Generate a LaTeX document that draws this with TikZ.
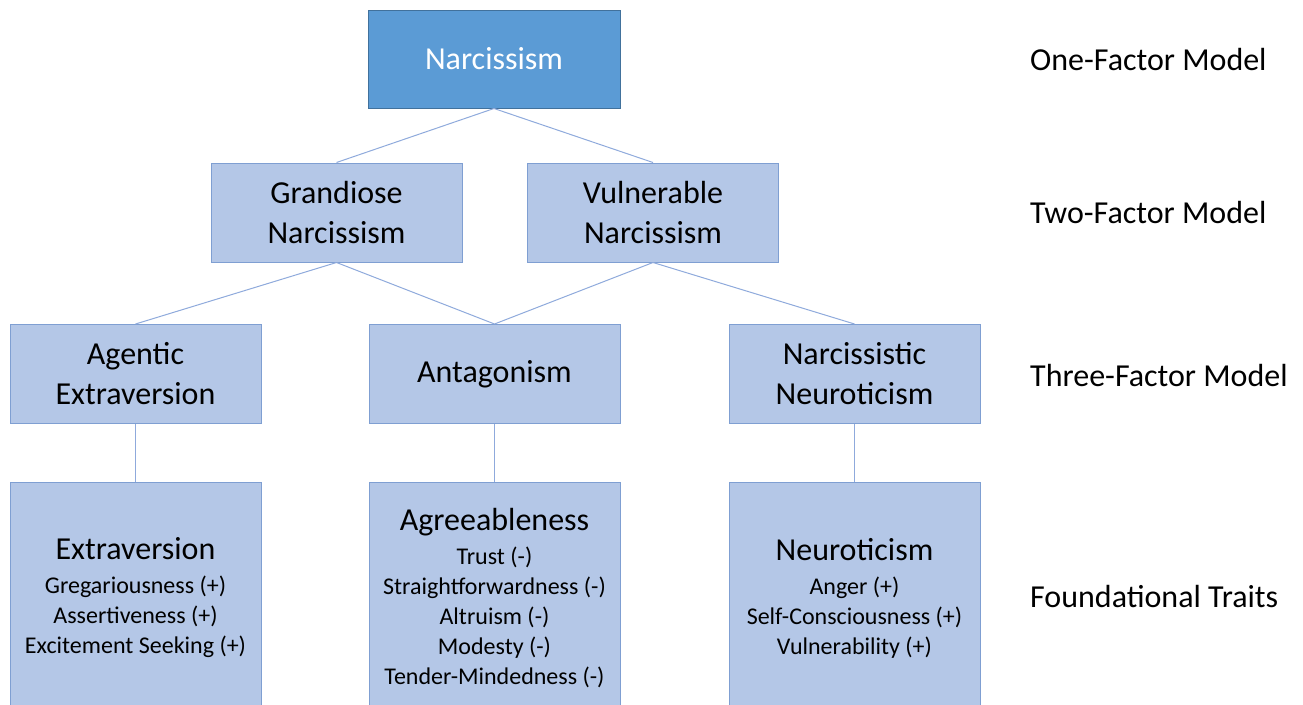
\documentclass[tikz,border=0pt]{standalone}
\usepackage{fontspec}
\setmainfont{Carlito}
\definecolor{topfill}{HTML}{5B9BD5}
\definecolor{topline}{HTML}{41719C}
\definecolor{boxfill}{HTML}{B4C7E7}
\definecolor{boxline}{HTML}{7F9FD2}
\definecolor{linkcol}{HTML}{8FAADC}
\begin{document}
\begin{tikzpicture}[x=1pt,y=-1pt,
  topbox/.style={draw=topline, fill=topfill, line width=1pt, minimum width=252pt, minimum height=98pt, text=white, font=\fontsize{32}{40}\selectfont, inner sep=0pt, align=center},
  box/.style={draw=boxline, fill=boxfill, line width=1pt, minimum width=251pt, minimum height=99pt, inner sep=0pt, align=center, font=\fontsize{32}{40}\selectfont, text=black},
  trait/.style={box, minimum height=232pt, font=\fontsize{24}{30}\selectfont},
  link/.style={draw=linkcol, line width=1pt},
  lbl/.style={anchor=west, font=\fontsize{32}{40}\selectfont, inner sep=0pt}]
\clip (0,0) rectangle (1303,704);
\fill[white] (0,0) rectangle (1303,704);
\node[topbox] (n) at (494,59) {Narcissism};
\node[box] (g) at (336.5,212.5) {Grandiose\\Narcissism};
\node[box] (v) at (653,212.5) {Vulnerable\\Narcissism};
\node[box] (ae) at (135.5,374) {Agentic\\Extraversion};
\node[box] (an) at (494.5,374) {Antagonism};
\node[box] (nn) at (854.5,374) {Narcissistic\\Neuroticism};
\node[trait] (ex) at (135.5,598) {{\fontsize{32}{32}\selectfont Extraversion}\\[4pt]Gregariousness (+)\\Assertiveness (+)\\Excitement Seeking (+)};
\node[trait] (ag) at (494.5,598) {{\fontsize{32}{32}\selectfont Agreeableness}\\[4pt]Trust (-)\\Straightforwardness (-)\\Altruism (-)\\Modesty (-)\\Tender-Mindedness (-)};
\node[trait] (ne) at (854.5,598) {{\fontsize{32}{32}\selectfont Neuroticism}\\[4pt]Anger (+)\\Self-Consciousness (+)\\Vulnerability (+)};
\draw[link] (n.south) -- (g.north);
\draw[link] (n.south) -- (v.north);
\draw[link] (g.south) -- (ae.north);
\draw[link] (g.south) -- (an.north);
\draw[link] (v.south) -- (an.north);
\draw[link] (v.south) -- (nn.north);
\draw[link] (ae.south) -- (ex.north);
\draw[link] (an.south) -- (ag.north);
\draw[link] (nn.south) -- (ne.north);
\node[lbl] (l1) at (1030,60) {One-Factor Model};
\node[lbl] (l2) at (1030,213) {Two-Factor Model};
\node[lbl] (l3) at (1030,376) {Three-Factor Model};
\node[lbl] (l4) at (1030,596) {Foundational Traits};
\end{tikzpicture}
\end{document}
